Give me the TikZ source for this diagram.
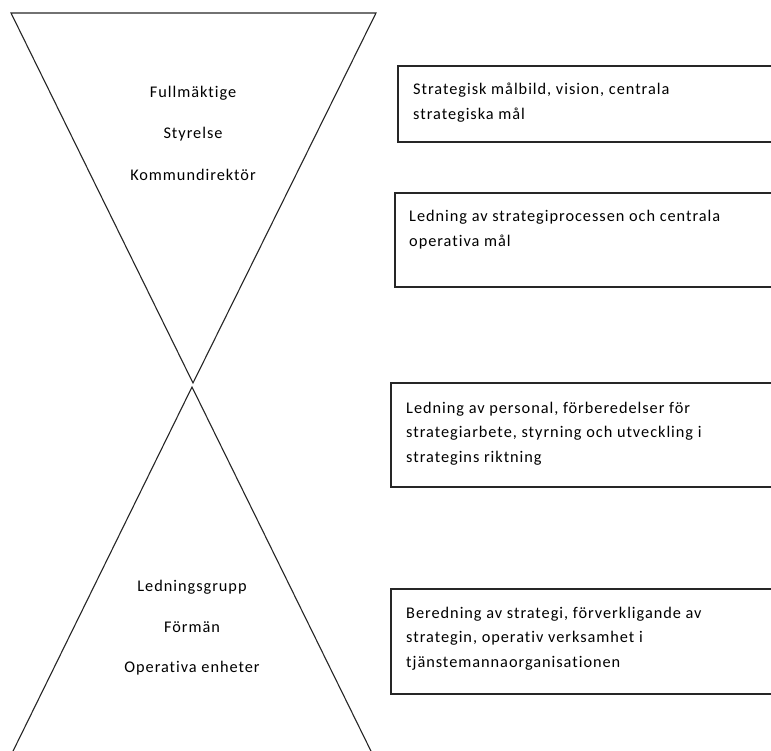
\documentclass[tikz,border=0pt]{standalone}
\usepackage{fontspec}
\setmainfont[LetterSpace=6,Ligatures={NoCommon,NoRare}]{Carlito}
\begin{document}
\begin{tikzpicture}[x=1pt,y=-1pt,
  edge/.style={draw=black!85,line width=1.1pt,line join=miter},
  box/.style={draw=black!85,line width=1.1pt},
  lbl/.style={anchor=base,inner sep=0pt,font=\fontsize{16.3}{24.5}\selectfont},
  boxtxt/.style={anchor=base west,inner sep=0pt,font=\fontsize{16.3}{24.5}\selectfont}]
\useasboundingbox (0,0) rectangle (771,751);
\clip (0,0) rectangle (771,751);
% hourglass
\coordinate (tl) at (11,13);
\coordinate (tr) at (376,13);
\coordinate (ta) at (193,383);
\coordinate (ba) at (192,387);
\coordinate (bl) at (-12,802);
\coordinate (br) at (396,802);
\draw[edge] (tl) -- (tr) -- (ta) -- cycle;
\draw[edge] (bl) -- (ba) -- (br);
% top labels
\node[lbl] (full) at (193,98) {Fullmäktige};
\node[lbl] (styr) at (193,139) {Styrelse};
\node[lbl] (komm) at (193,181) {Kommundirektör};
% bottom labels
\node[lbl] (ledg) at (192,591) {Ledningsgrupp};
\node[lbl] (form) at (192,632) {Förmän};
\node[lbl] (oper) at (192,672) {Operativa enheter};
% boxes
\draw[box] (398,66) rectangle (790,142);
\draw[box] (395,193) rectangle (790,287);
\draw[box] (391,383) rectangle (790,487);
\draw[box] (391,589) rectangle (790,694);
\node[boxtxt] (t1) at (413,95) {\begin{tabular}[t]{@{}l@{}}Strategisk målbild, vision, centrala\\strategiska mål\end{tabular}};
\node[boxtxt] (t2) at (409,222) {\begin{tabular}[t]{@{}l@{}}Ledning av strategiprocessen och centrala\\operativa mål\end{tabular}};
\node[boxtxt] (t3) at (406,413) {\begin{tabular}[t]{@{}l@{}}Ledning av personal, förberedelser för\\strategiarbete, styrning och utveckling i\\strategins riktning\end{tabular}};
\node[boxtxt] (t4) at (406,618) {\begin{tabular}[t]{@{}l@{}}Beredning av strategi, förverkligande av\\strategin, operativ verksamhet i\\tjänstemannaorganisationen\end{tabular}};
\end{tikzpicture}
\end{document}
